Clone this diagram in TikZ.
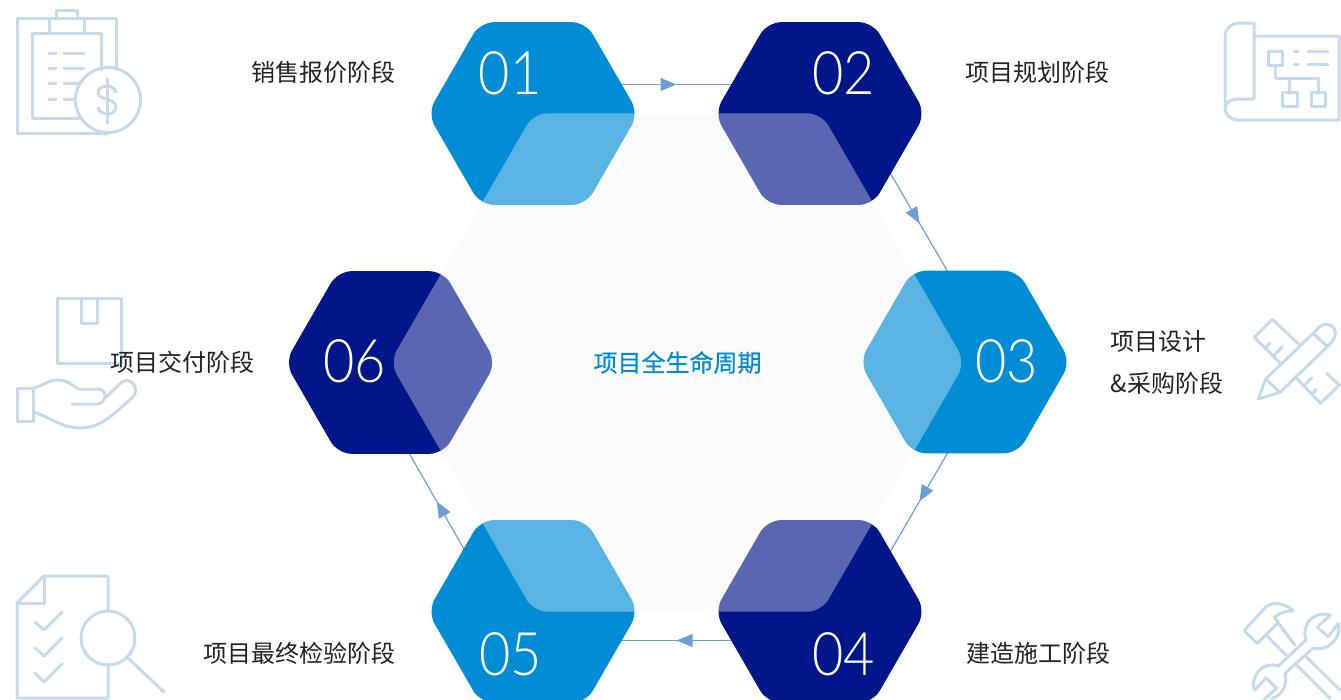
\documentclass[tikz,border=0pt]{standalone}
\usepackage{fontspec}
\setmainfont{Noto Sans CJK SC}
\newfontfamily\numfont[FakeStretch=0.9]{Lato Light}
\newfontfamily\midfont[FakeBold=0.5]{Noto Sans CJK SC}
\usetikzlibrary{shapes.geometric,backgrounds,arrows.meta,decorations.markings}
\definecolor{cyanb}{HTML}{008DD6}
\definecolor{navyb}{HTML}{001689}
\definecolor{paleb}{HTML}{FBFBFC}
\definecolor{linkb}{HTML}{6F9DD6}
\definecolor{iconb}{HTML}{C5DAEA}
\definecolor{inkb}{HTML}{222222}
\tikzset{
  corehex/.style={regular polygon,regular polygon sides=6,minimum size=575pt,inner sep=0pt,rounded corners=14pt,fill=paleb},
  stagehex/.style={regular polygon,regular polygon sides=6,minimum size=211pt,inner sep=0pt,rounded corners=14pt,
    fill=#1,path picture={\fill[white,opacity=.35,rounded corners=14pt]
      (core.corner 1)--(core.corner 2)--(core.corner 3)--(core.corner 4)--(core.corner 5)--(core.corner 6)--cycle;}},
  numlabel/.style={text=white,font=\numfont\fontsize{60}{60}\selectfont,inner sep=0pt},
  stagelabel/.style={text=inkb,font=\fontsize{24}{42}\selectfont,inner sep=0pt,anchor=west,align=left},
  link/.style={draw=linkb,line width=1.2pt,postaction={decorate},
    decoration={markings,mark=at position .5 with {\arrow[linkb]{Triangle[length=16pt,width=13pt]}}}},
  icon/.style={draw=iconb,line width=3pt,line join=round,line cap=round},
}
\begin{document}
\begin{tikzpicture}[x=1pt,y=-1pt]
\useasboundingbox (0,0) rectangle (1341,699);
\begin{pgfonlayer}{background}
\node[corehex,text=cyanb,font=\midfont\fontsize{24}{24}\selectfont] (core) at (677.5,362.5) {项目全生命周期};
\end{pgfonlayer}
\node[stagehex=cyanb] (h1) at (533,113.5) {};
\node[stagehex=navyb] (h2) at (820,113.5) {};
\node[stagehex=cyanb] (h3) at (965,362) {};
\node[stagehex=navyb] (h4) at (820,611.5) {};
\node[stagehex=cyanb] (h5) at (533,611.5) {};
\node[stagehex=navyb] (h6) at (390.5,362.5) {};
\begin{pgfonlayer}{background}
\draw[link] ([yshift=29pt]h1.center) -- ([yshift=29pt]h2.center);
\draw[link] ([xshift=27pt,yshift=14.5pt]h2.center) -- ([xshift=27pt,yshift=14.5pt]h3.center);
\draw[link] ([xshift=27pt,yshift=-14.5pt]h3.center) -- ([xshift=27pt,yshift=-14.5pt]h4.center);
\draw[link] ([yshift=-29pt]h4.center) -- ([yshift=-29pt]h5.center);
\draw[link] ([xshift=-25pt,yshift=-14.5pt]h5.center) -- ([xshift=-25pt,yshift=-14.5pt]h6.center);
\end{pgfonlayer}
\node[numlabel] (n1) at (510,73) {01};
\node[numlabel] (n2) at (843.5,73) {02};
\node[numlabel] (n3) at (1006.5,361) {03};
\node[numlabel] (n4) at (843.5,654) {04};
\node[numlabel] (n5) at (510.5,654) {05};
\node[numlabel] (n6) at (354.5,361) {06};
% icons
\begin{scope}[icon]
% clipboard with dollar
\draw (116,68)--(116,18)--(17,18)--(17,133)--(108,133);
\draw (49,33)--(49,18)--(56,18)--(56,10)--(77,10)--(77,18)--(84,18)--(84,33);
\draw (101,70)--(101,33)--(32,33)--(32,118)--(80,118);
\draw (108,100) circle[radius=32.5];
\draw (49,53)--(56,53) (64,53)--(84,53) (49,68)--(56,68) (64,68)--(84,68)
      (49,83)--(56,83) (64,83)--(80,83) (49,99)--(56,99) (64,99)--(75,99);
\draw (107,79)--(107,123);
\draw (116,92) .. controls (114,84) and (98,84) .. (98,93) .. controls (98,100) and (116,98) .. (116,107) .. controls (116,116) and (100,116) .. (98,108);
% plan
\draw (1254,23)--(1240,23) .. controls (1231,23) and (1225,29) .. (1225,37)--(1225,108) .. controls (1225,115) and (1231,120) .. (1238,120)--(1339,120)--(1339,36)--(1254,36);
\draw (1254,23)--(1254,99)--(1238,99) .. controls (1231,99) and (1225,103) .. (1225,108);
\draw (1268,51) rectangle (1282,65) (1282,92) rectangle (1297,106) (1311,92) rectangle (1325,106);
\draw (1275,65)--(1275,78)--(1318,78)--(1318,92) (1289,78)--(1289,92);
\draw (1294,51)--(1298,51) (1308,51)--(1328,51) (1294,64)--(1298,64) (1308,64)--(1328,64);
% box in hand
\draw (57,298) rectangle (121,363);
\draw (81,298)--(81,323)--(97,323)--(97,298);
\draw (17,388) rectangle (33,421);
\draw (33,388) .. controls (42,387) and (47,380) .. (58,380) .. controls (68,380) and (72,385) .. (78,389)--(97,389) .. controls (103,389) and (106,393) .. (105,397) .. controls (104,401) and (101,404) .. (97,404)--(72,404);
\draw (33,412) .. controls (48,416) and (62,428) .. (80,428) .. controls (100,428) and (112,416) .. (134,396) .. controls (139,386) and (130,377) .. (122,382)--(105,398);
% checklist
\draw (108,610)--(108,576)--(44,576)--(17,603)--(17,698)--(108,698)--(108,665);
\draw (44,576)--(44,603)--(17,603);
\draw (108,638) circle[radius=27];
\draw (128,658)--(164,692);
\draw (35,622)--(44,630)--(62,612) (35,648)--(44,656)--(62,638) (35,673)--(44,682)--(62,664);
\end{scope}
% ruler and pencil
\begin{scope}[icon,shift={(1230,300)},x=.3333pt,y=-.3333pt]
\draw (207,133)--(127,58)--(73,112)--(152,190);
\draw (105,145)--(120,130) (130,168)--(157,140);
\draw (195,230)--(272,310)--(328,255)--(290,220);
\draw (222,258)--(245,233) (247,283)--(258,268);
\draw (85,297)--(107,237)--(250,100) .. controls (262,88) and (272,72) .. (290,72) .. controls (308,72) and (322,90) .. (314,110) .. controls (310,122) and (300,132) .. (292,140)--(150,277)--cycle;
\draw (107,237)--(150,277) (250,100)--(292,140);
\end{scope}
% hammer and wrench
\begin{scope}[icon,shift={(1230,590)},x=.3333pt,y=-.3333pt]
\draw (42,122)--(82,160)--(145,97)--(133,82) .. controls (150,68) and (170,62) .. (190,62) .. controls (165,40) and (135,35) .. (110,48)--cycle;
\draw (108,135)--(170,197) (145,100)--(195,165);
\draw (200,225)--(300,325) (228,200)--(330,300);
\draw (228,150)--(145,228) .. controls (110,215) and (70,240) .. (70,290) .. controls (70,295) and (72,298) .. (75,300)--(108,263)--(140,295)--(100,330);
\draw (248,175)--(165,250) .. controls (175,290) and (150,320) .. (125,325);
\draw (228,150) .. controls (212,105) and (250,60) .. (300,75)--(262,112)--(295,140)--(325,100) .. controls (335,150) and (290,185) .. (248,175);
\end{scope}
% labels
\node[stagelabel] (l1) at (251.5,72) {销售报价阶段};
\node[stagelabel] (l2) at (965.5,72) {项目规划阶段};
\node[stagelabel] (l3) at (1110.5,362) {项目设计\\\&采购阶段};
\node[stagelabel] (l4) at (966.5,653) {建造施工阶段};
\node[stagelabel] (l5) at (203.5,653) {项目最终检验阶段};
\node[stagelabel] (l6) at (110.5,362) {项目交付阶段};
\end{tikzpicture}
\end{document}
